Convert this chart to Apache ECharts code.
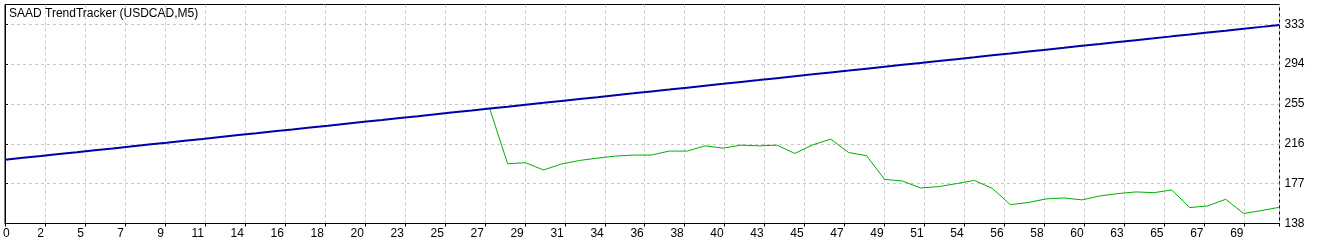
<!DOCTYPE html>
<html>
<head>
<meta charset="utf-8">
<script src="https://cdn.jsdelivr.net/npm/echarts@6/dist/echarts.min.js"></script>
<style>
html,body{margin:0;padding:0;background:#fff;}
#chart{width:1333px;height:244px;}
</style>
</head>
<body>
<div id="chart"></div>
<script>
// Trade index 0..71
var tradeIndex = [0,1,2,3,4,5,6,7,8,9,10,11,12,13,14,15,16,17,18,19,20,21,22,23,24,25,26,27,28,29,30,31,32,33,34,35,36,37,38,39,40,41,42,43,44,45,46,47,48,49,50,51,52,53,54,55,56,57,58,59,60,61,62,63,64,65,66,67,68,69,70,71];

// Balance (blue)
var balance = [200.4,202.3,204.1,206.0,207.8,209.7,211.5,213.4,215.3,217.1,219.0,220.8,222.7,224.6,226.4,228.3,230.1,232.0,233.8,235.7,237.6,239.4,241.3,243.1,245.0,246.9,248.7,250.6,252.4,254.3,256.1,258.0,259.9,261.7,263.6,265.4,267.3,269.1,271.0,272.9,274.7,276.6,278.4,280.3,282.2,284.0,285.9,287.7,289.6,291.4,293.3,295.2,297.0,298.9,300.7,302.6,304.4,306.3,308.2,310.0,311.9,313.7,315.6,317.5,319.3,321.2,323.0,324.9,326.7,328.6,330.5,332.3];

// Equity (green) - coincides with balance until trade 27
var equity = [null,null,null,null,null,null,null,null,null,null,null,null,null,null,null,null,null,null,null,null,null,null,null,null,null,null,null,250.6,196.5,197.5,190.4,196.2,199.7,202.0,204.0,205.0,205.0,208.9,208.9,214.0,211.8,214.7,214.0,214.7,206.6,215.0,220.6,207.5,204.3,181.2,179.6,172.8,174.1,177.0,180.2,172.4,156.5,158.5,162.1,163.0,161.1,165.0,167.3,168.9,168.2,170.8,153.6,155.2,161.7,147.8,150.7,153.9];

// Tick labels
var xTickLabels = ['0','2','5','7','9','11','14','16','18','20','23','25','27','29','31','34','36','38','40','43','45','47','49','51','54','56','58','60','63','65','67','69'];
var yTickLabels = [138,177,216,255,294,333];

var titleText = 'SAAD TrendTracker (USDCAD,M5)';

function pairs(ys){
  return tradeIndex.map(function(x,i){ return [x, ys[i]]; });
}

var FONT = 'Liberation Sans';
var chart = echarts.init(document.getElementById('chart'), null, {renderer:'canvas'});
var plotW = 1275;
var xMax = tradeIndex[tradeIndex.length-1];

chart.setOption({
  animation:false,
  backgroundColor:'#ffffff',
  title:{
    text:titleText,
    left:9, top:8, padding:0,
    textStyle:{fontFamily:FONT, fontSize:12, fontWeight:'normal', color:'#000000'}
  },
  grid:{
    left:4.5, right:53.5, top:4.5, bottom:20.5,
    show:true, borderColor:'#000000', borderWidth:1, backgroundColor:'transparent'
  },
  xAxis:{
    type:'value',
    min:0, max:xMax,
    interval: 40*xMax/plotW,
    axisLine:{show:true, lineStyle:{color:'#000', width:1}},
    axisTick:{show:true, length:3, lineStyle:{color:'#000'}},
    splitLine:{show:true, lineStyle:{color:'#c8c8c8', type:[3,3], width:1}},
    axisLabel:{
      margin:4,
      align:'right',
      padding:[0,1,0,0],
      fontFamily:FONT, fontSize:12, color:'#000',
      formatter:function(v, idx){
        var t = xTickLabels[idx];
        if (t === undefined) return '';
        if (idx === 0) return '{l|' + t + '}';
        return t;
      },
      rich:{ l:{align:'left', width:1, padding:[0,0,0,0], fontFamily:FONT, fontSize:12, color:'#000'} }
    }
  },
  yAxis:{
    type:'value',
    position:'right',
    min:yTickLabels[0], max:352.4,
    axisLine:{show:true, lineStyle:{color:'#000', width:1}},
    axisTick:{show:true, length:3, customValues:yTickLabels, lineStyle:{color:'#000'}},
    splitLine:{show:true, lineStyle:{color:'#c8c8c8', type:[3,3], width:1}},
    axisLabel:{
      margin:5,
      customValues:yTickLabels,
      fontFamily:FONT, fontSize:12, color:'#000',
      formatter:function(v){ return String(v); }
    }
  },
  series:[
    {
      name:'Equity', type:'line', data:pairs(equity),
      showSymbol:false, symbol:'none', connectNulls:false,
      lineStyle:{color:'#00b000', width:1}, z:2
    },
    {
      name:'Balance', type:'line', data:pairs(balance),
      showSymbol:false, symbol:'none',
      lineStyle:{color:'#0000a8', width:2}, z:3
    }
  ]
});
</script>
</body>
</html>
